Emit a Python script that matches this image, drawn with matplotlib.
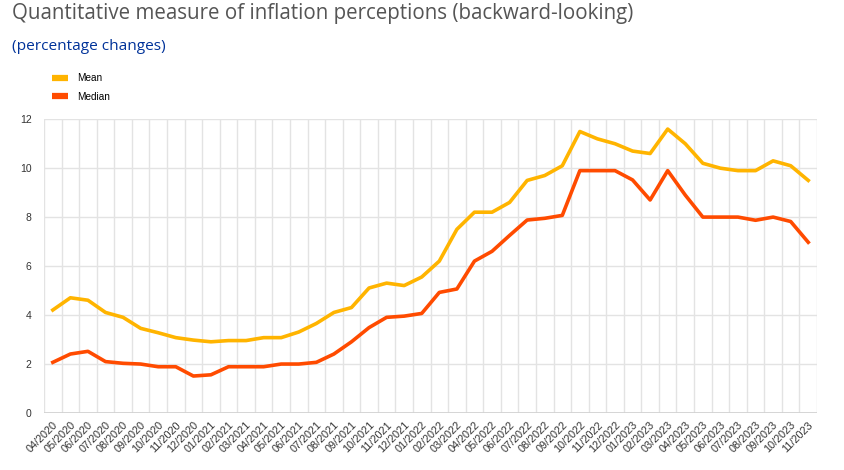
import matplotlib
matplotlib.use("Agg")
import matplotlib.pyplot as plt
from matplotlib.lines import Line2D

months = ["04/2020", "05/2020", "06/2020", "07/2020", "08/2020", "09/2020", "10/2020", "11/2020",
          "12/2020", "01/2021", "02/2021", "03/2021", "04/2021", "05/2021", "06/2021", "07/2021",
          "08/2021", "09/2021", "10/2021", "11/2021", "12/2021", "01/2022", "02/2022", "03/2022",
          "04/2022", "05/2022", "06/2022", "07/2022", "08/2022", "09/2022", "10/2022", "11/2022",
          "12/2022", "01/2023", "02/2023", "03/2023", "04/2023", "05/2023", "06/2023", "07/2023",
          "08/2023", "09/2023", "10/2023", "11/2023"]

mean = [4.2, 4.7, 4.6, 4.1, 3.9, 3.45, 3.27, 3.07, 2.97, 2.9, 2.95, 2.95, 3.07, 3.07, 3.3, 3.65,
        4.1, 4.3, 5.1, 5.3, 5.2, 5.55, 6.2, 7.5, 8.2, 8.2, 8.6, 9.5, 9.7, 10.1, 11.5, 11.2,
        11.0, 10.7, 10.6, 11.6, 11.0, 10.2, 10.0, 9.9, 9.9, 10.3, 10.1, 9.5]

median = [2.06, 2.4, 2.51, 2.09, 2.02, 1.99, 1.88, 1.88, 1.5, 1.55, 1.88, 1.88, 1.88, 1.99, 1.99, 2.06,
          2.4, 2.9, 3.48, 3.9, 3.95, 4.06, 4.92, 5.06, 6.2, 6.6, 7.25, 7.88, 7.95, 8.07, 9.9, 9.9,
          9.9, 9.52, 8.7, 9.9, 8.9, 8.0, 8.0, 8.0, 7.87, 8.0, 7.82, 6.97]

yticks = [0, 2, 4, 6, 8, 10, 12]

C_MEAN = "#FFB400"
C_MEDIAN = "#FF4B00"

plt.rcParams["font.family"] = ["Open Sans", "DejaVu Sans"]

fig = plt.figure(figsize=(8.45, 4.70), dpi=100)
ax = fig.add_axes([0.0521, 0.1219, 0.9148, 0.6243])

x = list(range(len(months)))
ax.plot(x, mean, color=C_MEAN, lw=2.6, solid_joinstyle="round", zorder=3)
ax.plot(x, median, color=C_MEDIAN, lw=2.6, solid_joinstyle="round", zorder=3)

ax.set_xlim(-0.5, len(months) - 0.5)
ax.set_ylim(0, 12)
ax.set_yticks(yticks)
ax.set_yticklabels([str(v) for v in yticks], fontsize=7.5, color="#333333",
                   family=["Liberation Sans", "DejaVu Sans"])
ax.set_xticks(x)
ax.set_xticklabels(months, rotation=45, ha="right", va="top", rotation_mode="anchor",
                   fontsize=7.8, color="#333333", family=["Liberation Sans", "DejaVu Sans"])
ax.tick_params(axis="y", length=0, pad=9)
ax.tick_params(axis="x", length=0, pad=5)

# grid: horizontal at ticks, vertical at category boundaries
for v in yticks:
    ax.axhline(v, color="#e3e3e3", lw=1.0, zorder=1)
for b in range(len(months) + 1):
    ax.axvline(b - 0.5, color="#e3e3e3", lw=1.0, zorder=1)
for s in ax.spines.values():
    s.set_visible(False)
ax.axhline(0, color="#d0d0d0", lw=1.2, zorder=2)

fig.text(12 / 845, 1 - 14 / 470, "Quantitative measure of inflation perceptions (backward-looking)",
         fontsize=14.8, color="#555555", ha="left", va="center")
fig.text(12 / 845, 1 - 47 / 470, "(percentage changes)", fontsize=11.1, color="#003299",
         ha="left", va="center")

handles = [Line2D([], [], color=C_MEAN, lw=4.5, solid_capstyle="butt"),
           Line2D([], [], color=C_MEDIAN, lw=4.5, solid_capstyle="butt")]
fig.legend(handles, ["Mean", "Median"], loc="upper left", bbox_to_anchor=(52 / 845, 1 - 73 / 470),
           frameon=False, handlelength=1.55, handletextpad=1.0, labelspacing=0.85,
           borderaxespad=0, borderpad=0,
           prop={"family": ["Liberation Sans", "DejaVu Sans"], "size": 7.2})

fig.savefig("out.png", dpi=100)
